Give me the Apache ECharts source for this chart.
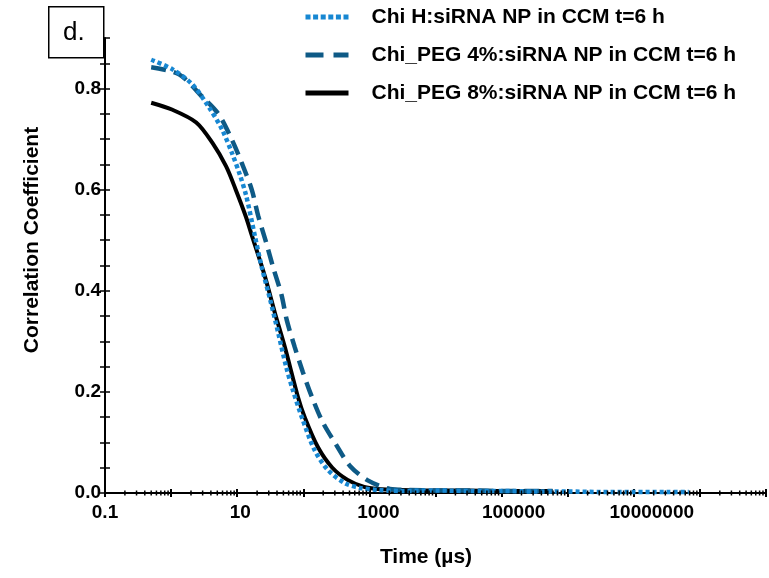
<!DOCTYPE html>
<html>
<head>
<meta charset="utf-8">
<script src="https://cdn.jsdelivr.net/npm/echarts@6/dist/echarts.min.js"></script>
<style>html,body{margin:0;padding:0;background:#fff}#c{width:769px;height:578px}</style>
</head>
<body>
<div id="c"></div>
<script>
// Series names
const seriesNames = ['Chi H:siRNA NP in CCM t=6 h', 'Chi_PEG 4%:siRNA NP in CCM t=6 h', 'Chi_PEG 8%:siRNA NP in CCM t=6 h'];

// Time (µs) and correlation values
const chiH_t = [0.50, 1.05, 2.1, 3.7, 5.9, 8.3, 11.2, 13.8, 18.6, 23.4, 31.6, 41.7, 55, 69, 98, 148, 234, 417, 724, 1320, 3160, 10000, 31600, 100000, 316000, 1000000, 3160000, 10000000, 31600000, 68000000];
const chiH_v = [0.857, 0.838, 0.808, 0.764, 0.719, 0.673, 0.626, 0.586, 0.507, 0.448, 0.382, 0.317, 0.25, 0.205, 0.145, 0.085, 0.046, 0.020, 0.010, 0.006, 0.004, 0.005, 0.004, 0.004, 0.003, 0.003, 0.002, 0.002, 0.002, 0.002];

const peg4_t = [0.50, 1.32, 2.95, 5.25, 8.3, 11.7, 16.6, 20.9, 27.5, 35, 46.8, 56, 74, 98, 135, 195, 309, 513, 977, 2040, 4000, 10000, 31600, 100000, 316000, 590000];
const peg4_v = [0.842, 0.828, 0.784, 0.749, 0.699, 0.653, 0.600, 0.547, 0.495, 0.446, 0.392, 0.343, 0.289, 0.240, 0.190, 0.141, 0.097, 0.053, 0.024, 0.008, 0.006, 0.005, 0.005, 0.004, 0.004, 0.004];

const peg8_t = [0.50, 1.05, 2.4, 4.2, 6.8, 9.5, 13.5, 16.6, 26.3, 37.2, 52.5, 83, 105, 166, 275, 468, 832, 1320, 3160, 10000, 31600, 100000, 316000, 590000];
const peg8_v = [0.772, 0.758, 0.733, 0.693, 0.646, 0.600, 0.547, 0.510, 0.428, 0.356, 0.289, 0.190, 0.150, 0.091, 0.050, 0.026, 0.012, 0.008, 0.006, 0.005, 0.005, 0.004, 0.004, 0.004];

// Axis ticks / labels
const xDecades = [0.1, 1, 10, 100, 1000, 10000, 100000, 1000000, 10000000, 100000000];
const xMinorMult = [2, 3, 4, 5, 6, 7, 8, 9];
const xLabelValues = [0.1, 10, 1000, 100000, 10000000];
const xLabelTexts = ['0.1', '10', '1000', '100000', '10000000'];
const yLabelValues = [0, 0.2, 0.4, 0.6, 0.8];

// label nudges (style only)
const xLabelNudge = [0, 3, 9, 12, 18];

const zip = (t, v) => t.map((x, i) => [x, v[i]]);
const minorTicks = [];
xDecades.forEach(d => xMinorMult.forEach(m => minorTicks.push([d * m, 0])));

const FONT = '"Liberation Sans", Arial, sans-serif';
const chart = echarts.init(document.getElementById('c'), null, {renderer: 'canvas'});

const baseX = {
  type: 'log', logBase: 10, min: 0.1, max: 1e9, splitNumber: 10, position: 'bottom',
  splitLine: {show: false}
};
const baseY = {type: 'value', min: 0, max: 0.9, interval: 0.05, position: 'left', splitLine: {show: false}};

const rich = {};
xLabelNudge.forEach((n, i) => {
  rich['s' + i] = {fontFamily: FONT, fontSize: 19, fontWeight: 'bold', color: '#000', padding: [0, 0, 0, 2 * n]};
});

const hiddenSym = {color: 'rgba(0,0,0,0)', borderWidth: 0, borderColor: 'rgba(0,0,0,0)'};

chart.setOption({
  animation: false,
  backgroundColor: '#fff',
  grid: {left: 105, top: 38, right: -4, bottom: 85, containLabel: false},
  legend: {
    orient: 'vertical', left: 303, top: 6, padding: 0,
    itemWidth: 43, itemHeight: 22, itemGap: 16,
    textStyle: {fontFamily: FONT, fontSize: 21, fontWeight: 'bold', color: '#000', lineHeight: 22, padding: [0, 0, 0, 18]},
    data: [
      {name: seriesNames[0], itemStyle: hiddenSym, lineStyle: {color: '#1787d2', type: [5, 2.6], width: 5, cap: 'butt', opacity: 1}},
      {name: seriesNames[1], itemStyle: hiddenSym, lineStyle: {color: '#0e5a86', type: [18, 10], width: 5, cap: 'butt', opacity: 1}},
      {name: seriesNames[2], itemStyle: hiddenSym, lineStyle: {color: '#000', type: 'solid', width: 5, opacity: 1}}
    ]
  },
  xAxis: [
    Object.assign({}, baseX, {
      axisLine: {show: true, lineStyle: {color: '#000', width: 2}},
      axisTick: {show: true, inside: false, length: 4, lineStyle: {color: '#000', width: 2}},
      axisLabel: {
        show: true, margin: 10, color: '#000', fontFamily: FONT, fontSize: 19, fontWeight: 'bold', rich: rich,
        formatter: function (v) {
          for (let i = 0; i < xLabelValues.length; i++) {
            if (Math.abs(Math.log10(v) - Math.log10(xLabelValues[i])) < 1e-6) return '{s' + i + '|' + xLabelTexts[i] + '}';
          }
          return '';
        }
      }
    }),
    Object.assign({}, baseX, {
      axisLine: {show: false},
      axisTick: {show: true, inside: true, length: 4, lineStyle: {color: '#000', width: 2}},
      axisLabel: {show: false}
    })
  ],
  yAxis: [
    Object.assign({}, baseY, {
      axisLine: {show: true, lineStyle: {color: '#000', width: 2}},
      axisTick: {show: true, inside: false, length: 5, lineStyle: {color: '#000', width: 1.5}},
      axisLabel: {
        show: true, margin: 4, color: '#000', fontFamily: FONT, fontSize: 19, fontWeight: 'bold',
        formatter: function (v) {
          for (let i = 0; i < yLabelValues.length; i++) {
            if (Math.abs(v - yLabelValues[i]) < 1e-6) return v.toFixed(1);
          }
          return '';
        }
      }
    }),
    Object.assign({}, baseY, {
      axisLine: {show: false},
      axisTick: {show: true, inside: true, length: 5, lineStyle: {color: '#000', width: 1.5}},
      axisLabel: {show: false}
    })
  ],
  graphic: [
    {type: 'rect', left: 48, top: 6, shape: {width: 55, height: 51}, style: {fill: '#fff', stroke: '#000', lineWidth: 1.5}, z: 100},
    {type: 'text', left: 63, top: 20, style: {text: 'd.', font: '26px ' + FONT, fill: '#000'}, z: 101},
    {type: 'text', x: 32, y: 240, rotation: Math.PI / 2, style: {text: 'Correlation Coefficient', font: 'bold 21px ' + FONT, fill: '#000', align: 'center', verticalAlign: 'middle'}},
    {type: 'text', x: 426, y: 557, style: {text: 'Time (µs)', font: 'bold 21px ' + FONT, fill: '#000', align: 'center', verticalAlign: 'middle'}}
  ],
  series: [
    {
      name: seriesNames[0], type: 'line', data: zip(chiH_t, chiH_v), smooth: 0.3,
      symbol: 'none', showSymbol: false, z: 4, clip: false,
      lineStyle: {color: '#1787d2', width: 4.5, type: [4, 3], cap: 'butt'}, itemStyle: {color: '#1787d2'}
    },
    {
      name: seriesNames[1], type: 'line', data: zip(peg4_t, peg4_v), smooth: 0.3,
      symbol: 'none', showSymbol: false, z: 3, clip: false,
      lineStyle: {color: '#0e5a86', width: 4.5, type: [15, 8], cap: 'butt'}, itemStyle: {color: '#0e5a86'}
    },
    {
      name: seriesNames[2], type: 'line', data: zip(peg8_t, peg8_v), smooth: 0.3,
      symbol: 'none', showSymbol: false, z: 2, clip: false,
      lineStyle: {color: '#000', width: 4}, itemStyle: {color: '#000'}
    },
    {
      type: 'custom', silent: true, clip: false, z: 5, data: minorTicks,
      renderItem: function (params, api) {
        const p = api.coord([api.value(0), 0]);
        return {type: 'line', shape: {x1: p[0], y1: p[1] - 2.5, x2: p[0], y2: p[1] + 2.5}, style: {stroke: '#000', lineWidth: 1.5}};
      }
    }
  ]
});
</script>
</body>
</html>
